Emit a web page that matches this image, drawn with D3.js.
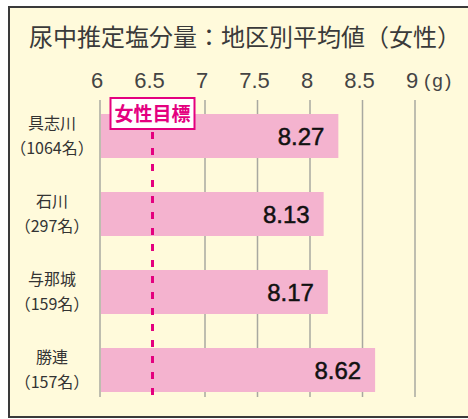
<!DOCTYPE html>
<html>
<head>
<meta charset="utf-8">
<script src="https://cdn.jsdelivr.net/npm/d3@7"></script>
<style>
  body { margin: 0; background: #fff; }
  svg { display: block; }
</style>
</head>
<body>
<div id="chart"></div>
<script>
// CHART DATA
const title = "尿中推定塩分量：地区別平均値（女性）";
const areas = ["具志川", "石川", "与那城", "勝連"];
const counts = ["（1064名）", "（297名）", "（159名）", "（157名）"];
const values = [8.27, 8.13, 8.17, 8.62];
const ticks = [6, 6.5, 7, 7.5, 8, 8.5, 9];
const target = 6.5;
const targetLabel = "女性目標";
const unit = "(g)";

const width = 468;
const height = 419;
const cjk = "'Noto Sans CJK JP', 'Noto Sans', sans-serif";
const num = "'Liberation Sans', Arial, sans-serif";

const svg = d3.select("#chart").append("svg")
    .attr("width", width)
    .attr("height", height);

// PANEL BACKGROUND + FRAME
svg.append("rect")
    .attr("x", 9).attr("y", 7)
    .attr("width", width + 10).attr("height", 410)
    .attr("fill", "#fffadb")
    .attr("stroke", "#3a3a3a")
    .attr("stroke-width", 2);

svg.append("text")
    .attr("x", 29).attr("y", 46)
    .attr("font-family", cjk)
    .attr("font-size", 24)
    .attr("fill", "#3a3a3a")
    .text(title);

// SCALES
const x = d3.scaleLinear().domain([6, 9]).range([100, 415]);
const y = d3.scaleBand().domain(areas).range([97, 409])
    .paddingInner(0.436).paddingOuter(0.218);

// GRID LINES
svg.selectAll(".grid")
    .data(ticks.filter(t => t !== target))
    .join("line")
    .attr("x1", d => x(d)).attr("x2", d => x(d))
    .attr("y1", 100).attr("y2", 397)
    .attr("stroke", "#a8a8a0")
    .attr("stroke-width", 1.5);

// TICK LABELS
svg.selectAll(".tick")
    .data(ticks)
    .join("text")
    .attr("x", d => x(d) - 3)
    .attr("y", 88)
    .attr("text-anchor", "middle")
    .attr("font-family", num)
    .attr("font-size", 22)
    .attr("fill", "#444")
    .text(d => d);

svg.append("text")
    .attr("x", x(9) + 9).attr("y", 87)
    .attr("font-family", num)
    .attr("font-size", 19)
    .attr("letter-spacing", 2)
    .attr("fill", "#444")
    .text(unit);

// BARS
svg.selectAll(".bar")
    .data(values)
    .join("rect")
    .attr("x", x(6) + 1)
    .attr("y", (_, i) => y(areas[i]))
    .attr("width", d => x(d) - x(6) - 1)
    .attr("height", y.bandwidth())
    .attr("fill", "#f4b3cf");

// VALUE LABELS
svg.selectAll(".val")
    .data(values)
    .join("text")
    .attr("x", d => x(d) - 14)
    .attr("y", (_, i) => y(areas[i]) + y.bandwidth() / 2 + 8.5)
    .attr("text-anchor", "end")
    .attr("font-family", num)
    .attr("font-size", 24)
    .attr("fill", "#111")
    .attr("stroke", "#111")
    .attr("stroke-width", 0.5)
    .text(d => d.toFixed(2));

// CATEGORY LABELS
svg.selectAll(".area")
    .data(areas)
    .join("text")
    .attr("x", 52)
    .attr("y", d => y(d) + y.bandwidth() / 2 - 7)
    .attr("text-anchor", "middle")
    .attr("font-family", cjk)
    .attr("font-size", 16)
    .attr("fill", "#333")
    .text(d => d);

svg.selectAll(".count")
    .data(counts)
    .join("text")
    .attr("x", 52)
    .attr("y", (_, i) => y(areas[i]) + y.bandwidth() / 2 + 18)
    .attr("text-anchor", "middle")
    .attr("font-family", cjk)
    .attr("font-size", 16)
    .attr("fill", "#333")
    .text(d => d);

// TARGET LINE + LABEL
svg.append("line")
    .attr("x1", x(target)).attr("x2", x(target))
    .attr("y1", 132).attr("y2", 397)
    .attr("stroke", "#e4007f")
    .attr("stroke-width", 3)
    .attr("stroke-dasharray", "7,9");

svg.append("rect")
    .attr("x", x(target) - 42).attr("y", 98)
    .attr("width", 84).attr("height", 31)
    .attr("fill", "#fff")
    .attr("stroke", "#e4007f")
    .attr("stroke-width", 2);

svg.append("text")
    .attr("x", x(target)).attr("y", 121)
    .attr("text-anchor", "middle")
    .attr("font-family", cjk)
    .attr("font-size", 19)
    .attr("font-weight", "bold")
    .attr("fill", "#e4007f")
    .text(targetLabel);
</script>
</body>
</html>
